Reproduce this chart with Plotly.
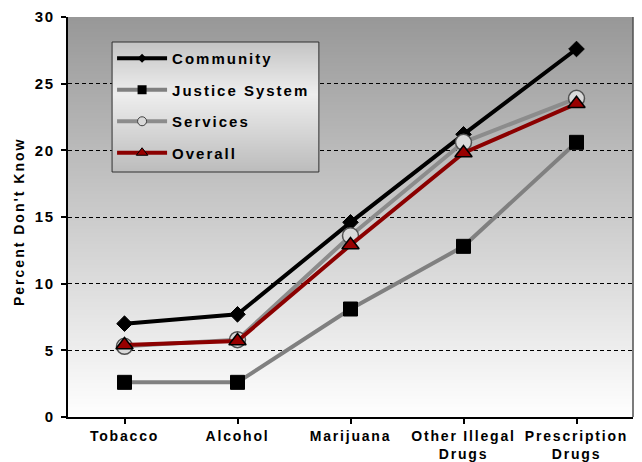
import base64
import struct
import zlib

import plotly.graph_objects as go

# ---- data -------------------------------------------------------------
categories = ["Tobacco", "Alcohol", "Marijuana", "Other Illegal\nDrugs", "Prescription\nDrugs"]
community = [7.0, 7.7, 14.6, 21.2, 27.6]
justice_system = [2.6, 2.6, 8.1, 12.8, 20.6]
services = [5.3, 5.8, 13.6, 20.6, 23.9]
overall = [5.4, 5.7, 12.9, 19.8, 23.5]
y_ticks = [0, 5, 10, 15, 20, 25, 30]
y_title = "Percent Don't Know"

FONT = "Liberation Sans, Arial, sans-serif"


def spaced(text, px):
    """Wrap each line of a label in a letter-spaced span."""
    return "<br>".join(
        f'<span style="letter-spacing:{px}px">{line}</span>' for line in text.split("\n")
    )


def gradient_png(stops, n=256):
    """Build a 1 x n vertical gradient PNG as a data URI.
    stops: list of (fraction_from_top, (r, g, b))."""
    rows = []
    for i in range(n):
        t = i / (n - 1)
        for (t0, c0), (t1, c1) in zip(stops[:-1], stops[1:]):
            if t0 <= t <= t1:
                f = 0 if t1 == t0 else (t - t0) / (t1 - t0)
                rows.append(tuple(round(a + (b - a) * f) for a, b in zip(c0, c1)))
                break
    raw = b"".join(b"\x00" + bytes(rgb) for rgb in rows)

    def chunk(tag, data):
        return (struct.pack(">I", len(data)) + tag + data
                + struct.pack(">I", zlib.crc32(tag + data) & 0xFFFFFFFF))

    ihdr = struct.pack(">IIBBBBB", 1, n, 8, 2, 0, 0, 0)
    png = (b"\x89PNG\r\n\x1a\n" + chunk(b"IHDR", ihdr)
           + chunk(b"IDAT", zlib.compress(raw)) + chunk(b"IEND", b""))
    return "data:image/png;base64," + base64.b64encode(png).decode()


plot_bg = gradient_png([(0.0, (152, 152, 152)), (1.0, (255, 255, 255))])
legend_bg = gradient_png([(0.0, (196, 196, 196)), (0.4, (238, 238, 238)), (1.0, (188, 188, 188))])

x_idx = list(range(len(categories)))

series = [
    dict(name="Community", y=community, line="#000000",
         marker=dict(symbol="diamond", size=12, color="#000000",
                     line=dict(color="#000000", width=1)),
         legend_marker=dict(symbol="diamond", size=7, color="#000000")),
    dict(name="Justice System", y=justice_system, line="#808080",
         marker=dict(symbol="square", size=14, color="#000000",
                     line=dict(color="#000000", width=1)),
         legend_marker=dict(symbol="square", size=9, color="#000000")),
    dict(name="Services", y=services, line="#8c8c8c",
         marker=dict(symbol="circle", size=16, color="#d9d9d9",
                     line=dict(color="#505050", width=1.5)),
         legend_marker=dict(symbol="circle", size=9, color="#d9d9d9",
                            line=dict(color="#404040", width=1))),
    dict(name="Overall", y=overall, line="#8b0000",
         marker=dict(symbol="triangle-up", size=15, color="#990000",
                     line=dict(color="#000000", width=1.5)),
         legend_marker=dict(symbol="triangle-up", size=10, color="#990000",
                            line=dict(color="#000000", width=1))),
]

fig = go.Figure()

for s in series:
    fig.add_trace(go.Scatter(
        x=x_idx, y=s["y"], mode="lines+markers", name=s["name"],
        line=dict(color=s["line"], width=4), marker=s["marker"],
        showlegend=False, cliponaxis=False,
    ))

# legend entries with smaller symbols, one group each so the gap applies
for s in series:
    fig.add_trace(go.Scatter(
        x=[None], y=[None], mode="lines+markers", name=spaced(s["name"], 2),
        line=dict(color=s["line"], width=4), marker=s["legend_marker"],
        legendgroup=s["name"], showlegend=True,
    ))

LEG_X0, LEG_X1 = 0.078, 0.444
LEG_Y0, LEG_Y1 = 0.6125, 0.9375

fig.update_layout(
    width=642, height=462,
    margin=dict(l=68, r=9, t=17, b=45),
    paper_bgcolor="#ffffff",
    plot_bgcolor="rgba(0,0,0,0)",
    font=dict(family=FONT, size=14, color="#000000", weight="bold"),
    images=[
        dict(source=plot_bg, xref="paper", yref="paper", x=0, y=1,
             sizex=1, sizey=1, sizing="stretch", xanchor="left", yanchor="top",
             layer="below"),
        dict(source=legend_bg, xref="paper", yref="paper", x=LEG_X0, y=LEG_Y1,
             sizex=LEG_X1 - LEG_X0, sizey=LEG_Y1 - LEG_Y0, sizing="stretch",
             xanchor="left", yanchor="top", layer="above"),
    ],
    shapes=[
        dict(type="rect", xref="paper", yref="paper", x0=LEG_X0, x1=LEG_X1,
             y0=LEG_Y0, y1=LEG_Y1, line=dict(color="#303030", width=1),
             layer="above"),
        dict(type="line", xref="paper", yref="paper", x0=1, x1=1, y0=0, y1=1,
             line=dict(color="#505050", width=1.5), layer="above"),
    ],
    annotations=[
        dict(text=spaced(y_title, 2), textangle=-90, xref="paper", yref="paper",
             x=0, y=0.4875, xanchor="center", yanchor="middle", xshift=-49,
             showarrow=False,
             font=dict(family=FONT, size=14, color="#000000", weight="bold")),
    ],
    legend=dict(
        x=LEG_X0, y=LEG_Y1, xanchor="left", yanchor="top",
        bgcolor="rgba(0,0,0,0)", borderwidth=0,
        font=dict(family=FONT, size=15, color="#000000", weight="bold"),
        itemwidth=50, tracegroupgap=9, traceorder="grouped",
    ),
    xaxis=dict(
        range=[-0.5, len(categories) - 0.5],
        tickmode="array", tickvals=x_idx,
        ticktext=[spaced(c, 1.8) for c in categories],
        tickangle=0, automargin=False,
        tickson="boundaries", ticks="outside", ticklen=5, tickwidth=1.5,
        tickcolor="#000000", ticklabelstandoff=0,
        showline=True, linecolor="#000000", linewidth=2,
        showgrid=False, zeroline=False, fixedrange=True,
        tickfont=dict(family=FONT, size=14, color="#000000", weight="bold"),
    ),
    yaxis=dict(
        range=[0, 30],
        tickmode="array", tickvals=y_ticks,
        ticktext=[spaced(str(v), 1.8) for v in y_ticks],
        ticks="outside", ticklen=5, tickwidth=1.5, tickcolor="#000000",
        ticklabelstandoff=3,
        showline=True, linecolor="#000000", linewidth=2,
        showgrid=True, gridcolor="#000000", gridwidth=1.3, griddash="4px,3px",
        zeroline=False, fixedrange=True, automargin=False,
        tickfont=dict(family=FONT, size=15, color="#000000", weight="bold"),
    ),
)

fig.write_html("out.html", config={"displayModeBar": False})
